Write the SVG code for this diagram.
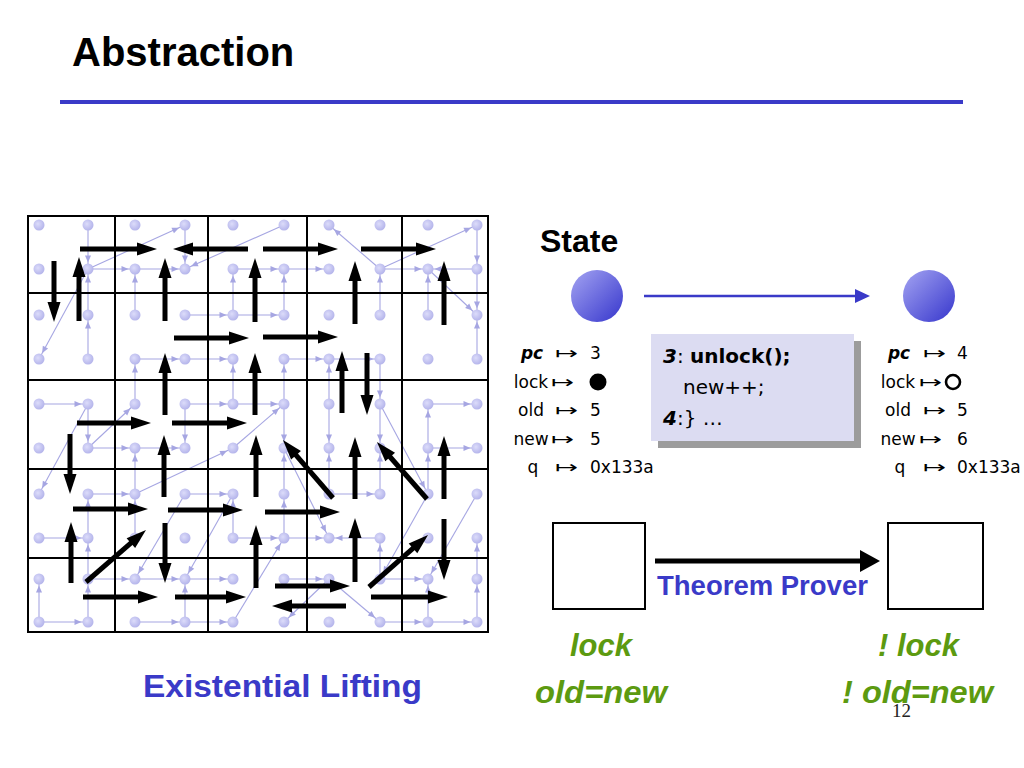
<svg xmlns="http://www.w3.org/2000/svg" width="1024" height="768" viewBox="0 0 1024 768">
<style>
.gl{stroke:#000;stroke-width:2;fill:none}
.le{stroke:#a6a6e2;stroke-width:1.1;marker-end:url(#lh)}
.ba{stroke:#000;stroke-width:5;marker-end:url(#bh)}
.dot{fill:url(#dg)}
.v{font-family:"DejaVu Sans",sans-serif;font-size:17px;fill:#000}
.nm{text-anchor:middle}
.code{font-family:"DejaVu Sans",sans-serif;font-size:20px;fill:#000}
.blue{font-family:"Liberation Sans",Arial,sans-serif;font-weight:bold;fill:#3a3ac8}
.green{font-family:"Liberation Sans",Arial,sans-serif;font-weight:bold;font-style:italic;font-size:31px;fill:#5c9a10}
</style>
<defs>
<radialGradient id="dg" cx="40%" cy="40%" r="65%">
<stop offset="0" stop-color="#dcdcfa"/>
<stop offset="1" stop-color="#b2b2ea"/>
</radialGradient>
<linearGradient id="sg" x1="0" y1="0" x2="1" y2="1">
<stop offset="0" stop-color="#a4a4f2"/>
<stop offset="1" stop-color="#3636cc"/>
</linearGradient>
<marker id="lh" markerUnits="userSpaceOnUse" markerWidth="7" markerHeight="6" refX="13.5" refY="3" orient="auto" overflow="visible">
<path d="M0,0 L7,3 L0,6 z" fill="#a6a6e2"/>
</marker>
<marker id="bh" markerUnits="userSpaceOnUse" markerWidth="20" markerHeight="13" refX="6" refY="6.5" orient="auto" overflow="visible">
<path d="M0,0 L20,6.5 L0,13 z" fill="#000"/>
</marker>
<marker id="blh" markerUnits="userSpaceOnUse" markerWidth="15" markerHeight="14" refX="3" refY="7" orient="auto" overflow="visible">
<path d="M0,0 L15,7 L0,14 z" fill="#3a3ac8"/>
</marker>
<marker id="tph" markerUnits="userSpaceOnUse" markerWidth="20" markerHeight="22" refX="4" refY="11" orient="auto" overflow="visible">
<path d="M0,0 L20,11 L0,22 z" fill="#000"/>
</marker>
</defs>
<rect width="1024" height="768" fill="#fff"/>

<g id="title">
<text x="72" y="66" font-family="Liberation Sans, Arial, sans-serif" font-weight="bold" font-size="40" fill="#000">Abstraction</text>
<rect x="60" y="100" width="903" height="4" fill="#3a3ac8"/>
</g>

<g id="lifting-grid">
<g id="light-edges">
<line class="le" x1="88" y1="225" x2="88" y2="269"/>
<line class="le" x1="88" y1="269" x2="185" y2="225"/>
<line class="le" x1="88" y1="269" x2="135" y2="269"/>
<line class="le" x1="135" y1="269" x2="185" y2="269"/>
<line class="le" x1="185" y1="225" x2="185" y2="269"/>
<line class="le" x1="284" y1="225" x2="185" y2="269"/>
<line class="le" x1="88" y1="315" x2="88" y2="269"/>
<line class="le" x1="88" y1="359" x2="88" y2="315"/>
<line class="le" x1="135" y1="315" x2="135" y2="269"/>
<line class="le" x1="88" y1="269" x2="39" y2="359"/>
<line class="le" x1="185" y1="315" x2="233" y2="315"/>
<line class="le" x1="233" y1="315" x2="233" y2="269"/>
<line class="le" x1="233" y1="269" x2="284" y2="269"/>
<line class="le" x1="135" y1="359" x2="185" y2="359"/>
<line class="le" x1="185" y1="359" x2="233" y2="359"/>
<line class="le" x1="233" y1="404" x2="233" y2="359"/>
<line class="le" x1="135" y1="404" x2="135" y2="359"/>
<line class="le" x1="39" y1="404" x2="88" y2="404"/>
<line class="le" x1="185" y1="404" x2="233" y2="404"/>
<line class="le" x1="284" y1="269" x2="329" y2="269"/>
<line class="le" x1="284" y1="315" x2="284" y2="269"/>
<line class="le" x1="233" y1="315" x2="284" y2="315"/>
<line class="le" x1="380" y1="269" x2="329" y2="225"/>
<line class="le" x1="380" y1="269" x2="477" y2="225"/>
<line class="le" x1="380" y1="269" x2="428" y2="269"/>
<line class="le" x1="380" y1="315" x2="380" y2="269"/>
<line class="le" x1="477" y1="269" x2="428" y2="269"/>
<line class="le" x1="477" y1="225" x2="477" y2="269"/>
<line class="le" x1="428" y1="315" x2="428" y2="269"/>
<line class="le" x1="428" y1="269" x2="477" y2="315"/>
<line class="le" x1="477" y1="269" x2="477" y2="315"/>
<line class="le" x1="477" y1="359" x2="477" y2="315"/>
<line class="le" x1="284" y1="359" x2="329" y2="359"/>
<line class="le" x1="329" y1="359" x2="380" y2="359"/>
<line class="le" x1="284" y1="404" x2="284" y2="359"/>
<line class="le" x1="329" y1="404" x2="329" y2="359"/>
<line class="le" x1="380" y1="359" x2="380" y2="404"/>
<line class="le" x1="428" y1="404" x2="477" y2="404"/>
<line class="le" x1="233" y1="404" x2="284" y2="404"/>
<line class="le" x1="88" y1="404" x2="88" y2="448"/>
<line class="le" x1="88" y1="448" x2="135" y2="404"/>
<line class="le" x1="88" y1="404" x2="39" y2="494"/>
<line class="le" x1="88" y1="448" x2="135" y2="448"/>
<line class="le" x1="135" y1="448" x2="185" y2="448"/>
<line class="le" x1="185" y1="404" x2="185" y2="448"/>
<line class="le" x1="135" y1="494" x2="135" y2="448"/>
<line class="le" x1="135" y1="494" x2="233" y2="448"/>
<line class="le" x1="233" y1="448" x2="284" y2="404"/>
<line class="le" x1="88" y1="494" x2="135" y2="494"/>
<line class="le" x1="185" y1="494" x2="233" y2="494"/>
<line class="le" x1="88" y1="538" x2="88" y2="494"/>
<line class="le" x1="39" y1="538" x2="88" y2="538"/>
<line class="le" x1="135" y1="538" x2="135" y2="494"/>
<line class="le" x1="185" y1="494" x2="135" y2="579"/>
<line class="le" x1="233" y1="494" x2="185" y2="579"/>
<line class="le" x1="233" y1="538" x2="233" y2="494"/>
<line class="le" x1="233" y1="538" x2="284" y2="538"/>
<line class="le" x1="88" y1="579" x2="88" y2="538"/>
<line class="le" x1="88" y1="579" x2="135" y2="579"/>
<line class="le" x1="135" y1="579" x2="185" y2="579"/>
<line class="le" x1="185" y1="579" x2="233" y2="579"/>
<line class="le" x1="39" y1="622" x2="39" y2="579"/>
<line class="le" x1="39" y1="622" x2="88" y2="622"/>
<line class="le" x1="88" y1="622" x2="88" y2="579"/>
<line class="le" x1="135" y1="622" x2="185" y2="622"/>
<line class="le" x1="185" y1="622" x2="233" y2="622"/>
<line class="le" x1="185" y1="622" x2="185" y2="579"/>
<line class="le" x1="233" y1="622" x2="284" y2="538"/>
<line class="le" x1="284" y1="404" x2="284" y2="448"/>
<line class="le" x1="329" y1="404" x2="329" y2="448"/>
<line class="le" x1="329" y1="494" x2="329" y2="448"/>
<line class="le" x1="380" y1="404" x2="380" y2="448"/>
<line class="le" x1="380" y1="404" x2="428" y2="494"/>
<line class="le" x1="428" y1="448" x2="477" y2="448"/>
<line class="le" x1="428" y1="494" x2="428" y2="448"/>
<line class="le" x1="428" y1="448" x2="428" y2="404"/>
<line class="le" x1="284" y1="494" x2="284" y2="448"/>
<line class="le" x1="329" y1="494" x2="380" y2="494"/>
<line class="le" x1="380" y1="494" x2="380" y2="448"/>
<line class="le" x1="284" y1="448" x2="329" y2="538"/>
<line class="le" x1="284" y1="538" x2="329" y2="538"/>
<line class="le" x1="284" y1="538" x2="284" y2="494"/>
<line class="le" x1="380" y1="538" x2="329" y2="538"/>
<line class="le" x1="380" y1="579" x2="380" y2="538"/>
<line class="le" x1="284" y1="579" x2="329" y2="579"/>
<line class="le" x1="380" y1="579" x2="428" y2="579"/>
<line class="le" x1="428" y1="622" x2="428" y2="579"/>
<line class="le" x1="380" y1="622" x2="428" y2="622"/>
<line class="le" x1="428" y1="622" x2="477" y2="622"/>
<line class="le" x1="477" y1="622" x2="477" y2="579"/>
<line class="le" x1="477" y1="579" x2="477" y2="538"/>
<line class="le" x1="329" y1="579" x2="284" y2="622"/>
<line class="le" x1="329" y1="579" x2="380" y2="622"/>
<line class="le" x1="428" y1="494" x2="380" y2="579"/>
<line class="le" x1="477" y1="494" x2="428" y2="579"/>
</g>
<g id="dots">
<circle class="dot" cx="39" cy="225" r="5.5"/><circle class="dot" cx="88" cy="225" r="5.5"/><circle class="dot" cx="135" cy="225" r="5.5"/><circle class="dot" cx="185" cy="225" r="5.5"/><circle class="dot" cx="233" cy="225" r="5.5"/><circle class="dot" cx="284" cy="225" r="5.5"/><circle class="dot" cx="329" cy="225" r="5.5"/><circle class="dot" cx="380" cy="225" r="5.5"/><circle class="dot" cx="428" cy="225" r="5.5"/><circle class="dot" cx="477" cy="225" r="5.5"/>
<circle class="dot" cx="39" cy="269" r="5.5"/><circle class="dot" cx="88" cy="269" r="5.5"/><circle class="dot" cx="135" cy="269" r="5.5"/><circle class="dot" cx="185" cy="269" r="5.5"/><circle class="dot" cx="233" cy="269" r="5.5"/><circle class="dot" cx="284" cy="269" r="5.5"/><circle class="dot" cx="329" cy="269" r="5.5"/><circle class="dot" cx="380" cy="269" r="5.5"/><circle class="dot" cx="428" cy="269" r="5.5"/><circle class="dot" cx="477" cy="269" r="5.5"/>
<circle class="dot" cx="39" cy="315" r="5.5"/><circle class="dot" cx="88" cy="315" r="5.5"/><circle class="dot" cx="135" cy="315" r="5.5"/><circle class="dot" cx="185" cy="315" r="5.5"/><circle class="dot" cx="233" cy="315" r="5.5"/><circle class="dot" cx="284" cy="315" r="5.5"/><circle class="dot" cx="329" cy="315" r="5.5"/><circle class="dot" cx="380" cy="315" r="5.5"/><circle class="dot" cx="428" cy="315" r="5.5"/><circle class="dot" cx="477" cy="315" r="5.5"/>
<circle class="dot" cx="39" cy="359" r="5.5"/><circle class="dot" cx="88" cy="359" r="5.5"/><circle class="dot" cx="135" cy="359" r="5.5"/><circle class="dot" cx="185" cy="359" r="5.5"/><circle class="dot" cx="233" cy="359" r="5.5"/><circle class="dot" cx="284" cy="359" r="5.5"/><circle class="dot" cx="329" cy="359" r="5.5"/><circle class="dot" cx="380" cy="359" r="5.5"/><circle class="dot" cx="428" cy="359" r="5.5"/><circle class="dot" cx="477" cy="359" r="5.5"/>
<circle class="dot" cx="39" cy="404" r="5.5"/><circle class="dot" cx="88" cy="404" r="5.5"/><circle class="dot" cx="135" cy="404" r="5.5"/><circle class="dot" cx="185" cy="404" r="5.5"/><circle class="dot" cx="233" cy="404" r="5.5"/><circle class="dot" cx="284" cy="404" r="5.5"/><circle class="dot" cx="329" cy="404" r="5.5"/><circle class="dot" cx="380" cy="404" r="5.5"/><circle class="dot" cx="428" cy="404" r="5.5"/><circle class="dot" cx="477" cy="404" r="5.5"/>
<circle class="dot" cx="39" cy="448" r="5.5"/><circle class="dot" cx="88" cy="448" r="5.5"/><circle class="dot" cx="135" cy="448" r="5.5"/><circle class="dot" cx="185" cy="448" r="5.5"/><circle class="dot" cx="233" cy="448" r="5.5"/><circle class="dot" cx="284" cy="448" r="5.5"/><circle class="dot" cx="329" cy="448" r="5.5"/><circle class="dot" cx="380" cy="448" r="5.5"/><circle class="dot" cx="428" cy="448" r="5.5"/><circle class="dot" cx="477" cy="448" r="5.5"/>
<circle class="dot" cx="39" cy="494" r="5.5"/><circle class="dot" cx="88" cy="494" r="5.5"/><circle class="dot" cx="135" cy="494" r="5.5"/><circle class="dot" cx="185" cy="494" r="5.5"/><circle class="dot" cx="233" cy="494" r="5.5"/><circle class="dot" cx="284" cy="494" r="5.5"/><circle class="dot" cx="329" cy="494" r="5.5"/><circle class="dot" cx="380" cy="494" r="5.5"/><circle class="dot" cx="428" cy="494" r="5.5"/><circle class="dot" cx="477" cy="494" r="5.5"/>
<circle class="dot" cx="39" cy="538" r="5.5"/><circle class="dot" cx="88" cy="538" r="5.5"/><circle class="dot" cx="135" cy="538" r="5.5"/><circle class="dot" cx="185" cy="538" r="5.5"/><circle class="dot" cx="233" cy="538" r="5.5"/><circle class="dot" cx="284" cy="538" r="5.5"/><circle class="dot" cx="329" cy="538" r="5.5"/><circle class="dot" cx="380" cy="538" r="5.5"/><circle class="dot" cx="428" cy="538" r="5.5"/><circle class="dot" cx="477" cy="538" r="5.5"/>
<circle class="dot" cx="39" cy="579" r="5.5"/><circle class="dot" cx="88" cy="579" r="5.5"/><circle class="dot" cx="135" cy="579" r="5.5"/><circle class="dot" cx="185" cy="579" r="5.5"/><circle class="dot" cx="233" cy="579" r="5.5"/><circle class="dot" cx="284" cy="579" r="5.5"/><circle class="dot" cx="329" cy="579" r="5.5"/><circle class="dot" cx="380" cy="579" r="5.5"/><circle class="dot" cx="428" cy="579" r="5.5"/><circle class="dot" cx="477" cy="579" r="5.5"/>
<circle class="dot" cx="39" cy="622" r="5.5"/><circle class="dot" cx="88" cy="622" r="5.5"/><circle class="dot" cx="135" cy="622" r="5.5"/><circle class="dot" cx="185" cy="622" r="5.5"/><circle class="dot" cx="233" cy="622" r="5.5"/><circle class="dot" cx="284" cy="622" r="5.5"/><circle class="dot" cx="329" cy="622" r="5.5"/><circle class="dot" cx="380" cy="622" r="5.5"/><circle class="dot" cx="428" cy="622" r="5.5"/><circle class="dot" cx="477" cy="622" r="5.5"/>
</g>
<g id="grid-lines">
<rect class="gl" x="28" y="216" width="460" height="416"/>
<line class="gl" x1="115" y1="216" x2="115" y2="632"/>
<line class="gl" x1="208" y1="216" x2="208" y2="632"/>
<line class="gl" x1="307" y1="216" x2="307" y2="632"/>
<line class="gl" x1="402" y1="216" x2="402" y2="632"/>
<line class="gl" x1="28" y1="293" x2="488" y2="293"/>
<line class="gl" x1="28" y1="380" x2="488" y2="380"/>
<line class="gl" x1="28" y1="469" x2="488" y2="469"/>
<line class="gl" x1="28" y1="558" x2="488" y2="558"/>
</g>
<g id="abstract-arrows">
<line class="ba" x1="80" y1="249" x2="143" y2="249"/>
<line class="ba" x1="248" y1="249" x2="187" y2="249"/>
<line class="ba" x1="263" y1="249" x2="324" y2="249"/>
<line class="ba" x1="361" y1="249" x2="422" y2="249"/>
<line class="ba" x1="54" y1="261" x2="54" y2="308"/>
<line class="ba" x1="79" y1="321" x2="79" y2="271"/>
<line class="ba" x1="165" y1="321" x2="165" y2="272"/>
<line class="ba" x1="255" y1="322" x2="255" y2="272"/>
<line class="ba" x1="355" y1="324" x2="355" y2="275"/>
<line class="ba" x1="444" y1="325" x2="444" y2="275"/>
<line class="ba" x1="174" y1="338" x2="235" y2="338"/>
<line class="ba" x1="263" y1="337" x2="324" y2="337"/>
<line class="ba" x1="165" y1="415" x2="165" y2="367"/>
<line class="ba" x1="255" y1="415" x2="255" y2="367"/>
<line class="ba" x1="342" y1="413" x2="342" y2="365"/>
<line class="ba" x1="367" y1="353" x2="367" y2="401"/>
<line class="ba" x1="77" y1="423" x2="137" y2="423"/>
<line class="ba" x1="172" y1="423" x2="233" y2="423"/>
<line class="ba" x1="70" y1="434" x2="70" y2="480"/>
<line class="ba" x1="164" y1="497" x2="164" y2="449"/>
<line class="ba" x1="256" y1="497" x2="256" y2="449"/>
<line class="ba" x1="73" y1="509" x2="134" y2="509"/>
<line class="ba" x1="168" y1="510" x2="229" y2="510"/>
<line class="ba" x1="71" y1="583" x2="71" y2="536"/>
<line class="ba" x1="86" y1="582" x2="135.4" y2="539.2"/>
<line class="ba" x1="165" y1="523" x2="165" y2="569"/>
<line class="ba" x1="83" y1="597" x2="144" y2="597"/>
<line class="ba" x1="175" y1="597" x2="232" y2="597"/>
<line class="ba" x1="256" y1="588" x2="256" y2="539"/>
<line class="ba" x1="333" y1="498" x2="292.1" y2="450.6"/>
<line class="ba" x1="355" y1="499" x2="355" y2="451"/>
<line class="ba" x1="427" y1="499" x2="386.2" y2="452.5"/>
<line class="ba" x1="444" y1="499" x2="444" y2="450"/>
<line class="ba" x1="265" y1="512" x2="326" y2="512"/>
<line class="ba" x1="355" y1="582" x2="355" y2="532"/>
<line class="ba" x1="369" y1="587" x2="417.5" y2="544.3"/>
<line class="ba" x1="444" y1="519" x2="444" y2="566"/>
<line class="ba" x1="275" y1="586" x2="336" y2="586"/>
<line class="ba" x1="346" y1="606" x2="286" y2="606"/>
<line class="ba" x1="371" y1="597" x2="434" y2="597"/>
</g>
</g>

<g id="existential-lifting-label">
<text class="blue" x="143" y="697" font-size="32" textLength="279" lengthAdjust="spacingAndGlyphs">Existential Lifting</text>
</g>

<g id="state-label">
<text x="540" y="252" font-family="Liberation Sans, Arial, sans-serif" font-weight="bold" font-size="32" fill="#000">State</text>
</g>

<g id="state-1">
<circle cx="597" cy="296" r="26" fill="url(#sg)"/>
</g>
<g id="state-2">
<circle cx="929" cy="296" r="26" fill="url(#sg)"/>
</g>

<g id="vars-1">
<text class="v nm" x="532" y="359" font-weight="bold" font-style="italic">pc</text>
<text class="v" x="555" y="359" textLength="23" lengthAdjust="spacingAndGlyphs">↦</text>
<text class="v" x="590" y="359">3</text>
<text class="v nm" x="531" y="388">lock</text>
<text class="v" x="551" y="388" textLength="23" lengthAdjust="spacingAndGlyphs">↦</text>
<circle cx="598" cy="382" r="8.5" fill="#000"/>
<text class="v nm" x="531" y="416">old</text>
<text class="v" x="555" y="416" textLength="23" lengthAdjust="spacingAndGlyphs">↦</text>
<text class="v" x="590" y="416">5</text>
<text class="v nm" x="531" y="445">new</text>
<text class="v" x="551" y="445" textLength="23" lengthAdjust="spacingAndGlyphs">↦</text>
<text class="v" x="590" y="445">5</text>
<text class="v nm" x="533" y="473">q</text>
<text class="v" x="555" y="473" textLength="23" lengthAdjust="spacingAndGlyphs">↦</text>
<text class="v" x="590" y="473">0x133a</text>
</g>

<g id="code-box">
<rect x="658" y="341" width="203" height="107" fill="#9c9c9c"/>
<rect x="651" y="334" width="203" height="107" fill="#dcdcf2"/>
<text class="code" x="663" y="363"><tspan font-weight="bold" font-style="italic">3</tspan>: <tspan font-weight="bold">unlock();</tspan></text>
<text class="code" x="683" y="394" font-size="19">new++;</text>
<text class="code" x="663" y="425"><tspan font-weight="bold" font-style="italic">4</tspan>:} …</text>
</g>

<g id="vars-2">
<text class="v nm" x="899" y="359" font-weight="bold" font-style="italic">pc</text>
<text class="v" x="923" y="359" textLength="23" lengthAdjust="spacingAndGlyphs">↦</text>
<text class="v" x="957" y="359">4</text>
<text class="v nm" x="898" y="388">lock</text>
<text class="v" x="919" y="388" textLength="23" lengthAdjust="spacingAndGlyphs">↦</text>
<circle cx="953" cy="382" r="7" fill="none" stroke="#000" stroke-width="2.6"/>
<text class="v nm" x="898" y="416">old</text>
<text class="v" x="923" y="416" textLength="23" lengthAdjust="spacingAndGlyphs">↦</text>
<text class="v" x="957" y="416">5</text>
<text class="v nm" x="898" y="445">new</text>
<text class="v" x="919" y="445" textLength="23" lengthAdjust="spacingAndGlyphs">↦</text>
<text class="v" x="957" y="445">6</text>
<text class="v nm" x="900" y="473">q</text>
<text class="v" x="923" y="473" textLength="23" lengthAdjust="spacingAndGlyphs">↦</text>
<text class="v" x="957" y="473">0x133a</text>
</g>

<g id="box-1">
<rect x="553" y="523" width="92" height="86" fill="#fff" stroke="#000" stroke-width="2"/>
</g>
<g id="box-2">
<rect x="888" y="523" width="95" height="86" fill="#fff" stroke="#000" stroke-width="2"/>
</g>

<g id="connectors">
<line x1="644" y1="296" x2="858" y2="296" stroke="#3a3ac8" stroke-width="2.5" marker-end="url(#blh)"/>
<line x1="655" y1="561" x2="864" y2="561" stroke="#000" stroke-width="5" marker-end="url(#tph)"/>
</g>

<g id="theorem-prover-label">
<text class="blue" x="657" y="595" font-size="27.5">Theorem Prover</text>
</g>

<g id="pred-1">
<text class="green" x="570" y="656">lock</text>
<text class="green" x="535" y="703" textLength="132" lengthAdjust="spacingAndGlyphs">old=new</text>
</g>
<g id="pred-2">
<text class="green" x="878" y="656">! lock</text>
<text class="green" x="842" y="703" textLength="151" lengthAdjust="spacingAndGlyphs">! old=new</text>
</g>

<g id="page-number">
<text x="892" y="717" font-family="Liberation Serif, Times New Roman, serif" font-size="19" fill="#222">12</text>
</g>
</svg>
